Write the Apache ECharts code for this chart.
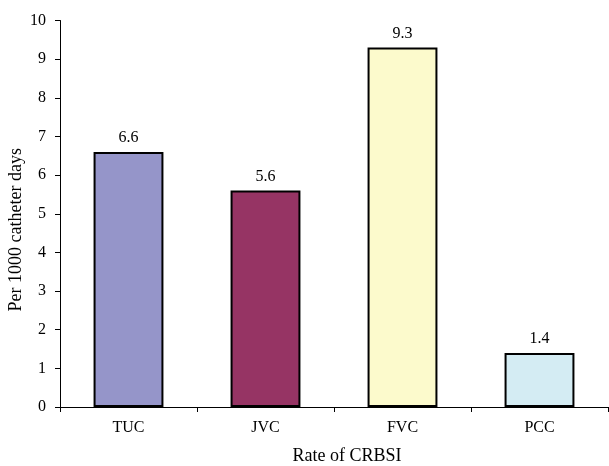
<!DOCTYPE html>
<html><head><meta charset="utf-8">
<script src="https://cdn.jsdelivr.net/npm/echarts@6/dist/echarts.min.js"></script>
<style>html,body{margin:0;padding:0;background:#fff}#c{width:609px;height:466px}</style>
</head><body><div id="c"></div>
<script>
const categories = ['TUC', 'JVC', 'FVC', 'PCC'];
const values = [6.6, 5.6, 9.3, 1.4];
const barColors = ['#9595C9', '#963464', '#FCFACC', '#D4ECF3'];
const font = '"Liberation Serif", "Times New Roman", serif';
const chart = echarts.init(document.getElementById('c'));
chart.setOption({
  animation: false,
  grid: {left: 60, right: 1, top: 20.5, bottom: 59, containLabel: false, outerBoundsMode: 'none'},
  xAxis: {
    type: 'category', data: categories,
    name: 'Rate of CRBSI', nameLocation: 'middle', nameGap: 40,
    nameTextStyle: {fontFamily: font, fontSize: 18, color: '#000', padding: [0, 0, 0, 26]},
    axisLine: {lineStyle: {color: '#000', width: 1}},
    axisTick: {show: true, alignWithLabel: false, length: 5, lineStyle: {color: '#000'}},
    axisLabel: {fontFamily: font, fontSize: 16, color: '#000', margin: 13}
  },
  yAxis: {
    type: 'value', min: 0, max: 10, interval: 1,
    name: 'Per 1000 catheter days', nameLocation: 'middle', nameGap: 35,
    nameMoveOverlap: false,
    nameTextStyle: {fontFamily: font, fontSize: 18, color: '#000', padding: [0, 32, 0, 0]},
    axisLine: {show: true, lineStyle: {color: '#000', width: 1}},
    axisTick: {show: true, length: 5, lineStyle: {color: '#000'}},
    axisLabel: {fontFamily: font, fontSize: 16, color: '#000', margin: 14},
    splitLine: {show: false}
  },
  series: [{
    type: 'bar', barWidth: '51%',
    data: values.map((v, i) => ({value: v, itemStyle: {color: barColors[i]}})),
    itemStyle: {borderColor: '#000', borderWidth: 2},
    label: {show: true, position: 'top', distance: 6, fontFamily: font, fontSize: 16, color: '#000', formatter: p => p.value.toFixed(1)}
  }]
});
</script></body></html>
